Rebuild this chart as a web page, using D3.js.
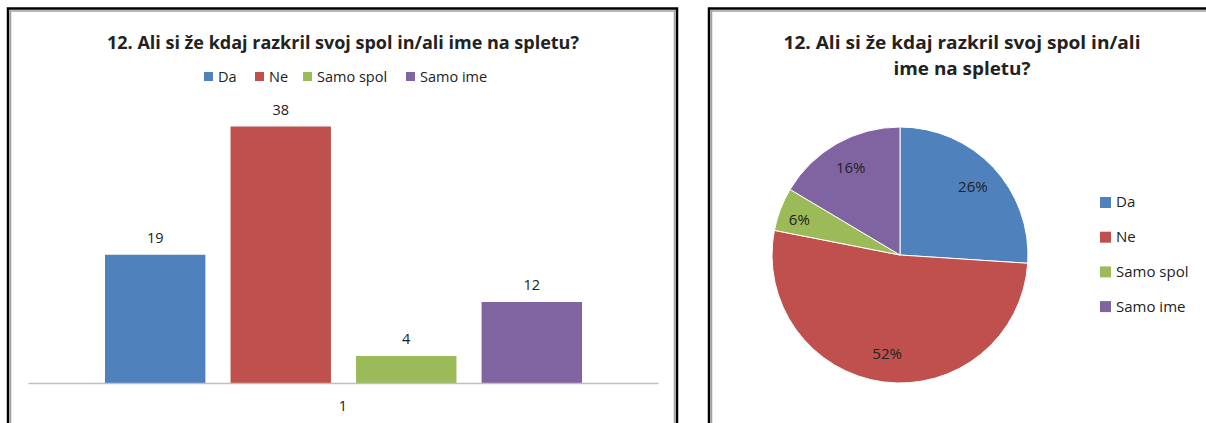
<!DOCTYPE html>
<html lang="sl">
<head>
<meta charset="UTF-8">
<title>12. Ali si že kdaj razkril svoj spol in/ali ime na spletu?</title>
<script src="https://cdn.jsdelivr.net/npm/d3@7"></script>
<style>
  body { margin: 0; background: #fff; }
  text { font-family: "Open Sans", "Liberation Sans", sans-serif; fill: #222; }
</style>
</head>
<body>
<svg id="chart" width="1206" height="423"></svg>
<script>
// data
let categories = ["Da", "Ne", "Samo spol", "Samo ime"]
let values = [19, 38, 4, 12]
let percentLabels = ["26%", "52%", "6%", "16%"]
let colors = ["#4f81bd", "#c0504d", "#9bbb59", "#8064a2"]
let groupLabel = ["1"]
let titleText = "12. Ali si že kdaj razkril svoj spol in/ali ime na spletu?"
let titleLines = ["12. Ali si že kdaj razkril svoj spol in/ali", "ime na spletu?"]

let svg = d3.select("#chart")

// panel frames (black outer line + grey inner line)
function frame(x, y, w, h) {
    svg.append("rect").attr("x", x + 2.5).attr("y", y + 2.5).attr("width", w - 5).attr("height", h - 5)
        .attr("fill", "none").attr("stroke", "#a0a0a0").attr("stroke-width", 1.5)
    svg.append("rect").attr("x", x).attr("y", y).attr("width", w).attr("height", h)
        .attr("fill", "none").attr("stroke", "#000").attr("stroke-width", 2.5)
}
frame(8, 8.5, 669, 440)
frame(709, 8.5, 520, 440)

// ---------- bar chart ----------
let left = 28, right = 658, baseY = 383

let x0 = d3.scaleBand().domain(groupLabel).range([left, right])
let x1 = d3.scaleBand().domain(categories).range([105, 582]).paddingInner(0.2)
let y = d3.scaleLinear().domain([0, 40]).range([baseY, 113])

svg.append("text")
    .attr("x", 343).attr("y", 49)
    .attr("text-anchor", "middle")
    .attr("font-size", 18).attr("font-weight", "bold")
    .attr("textLength", 472).attr("lengthAdjust", "spacingAndGlyphs")
    .text(titleText)

// top legend
let legX = [204, 255, 303, 406]
let leg = svg.append("g")
categories.forEach(function (c, i) {
    leg.append("rect").attr("x", legX[i]).attr("y", 72).attr("width", 9).attr("height", 9).attr("fill", colors[i])
    leg.append("text").attr("x", legX[i] + 14).attr("y", 82).attr("font-size", 14.5).text(c)
})

svg.selectAll("rect.bar")
    .data(values)
    .enter()
    .append("rect")
    .attr("class", "bar")
    .attr("x", (d, i) => x1(categories[i]))
    .attr("width", x1.bandwidth())
    .attr("y", d => y(d))
    .attr("height", d => baseY - y(d))
    .attr("fill", (d, i) => colors[i])

svg.selectAll("text.val")
    .data(values)
    .enter()
    .append("text")
    .attr("class", "val")
    .attr("x", (d, i) => x1(categories[i]) + x1.bandwidth() / 2)
    .attr("y", d => y(d) - 12)
    .attr("text-anchor", "middle")
    .attr("font-size", 14.5)
    .text(d => d)

// x axis
let xAxis = svg.append("g")
    .attr("transform", "translate(0," + baseY + ")")
    .call(d3.axisBottom(x0).tickSize(0).tickPadding(18))
xAxis.select(".domain").attr("stroke", "#bfbfbf").attr("stroke-width", 1.5)
xAxis.selectAll("text").attr("font-size", 14.5).attr("fill", "#222")
    .style("font-family", "'Open Sans', 'Liberation Sans', sans-serif")

// ---------- pie chart ----------
let cx = 900, cy = 255, r = 128

svg.append("g").selectAll("text")
    .data(titleLines)
    .enter()
    .append("text")
    .attr("x", 962)
    .attr("y", (d, i) => 49 + i * 26)
    .attr("text-anchor", "middle")
    .attr("font-size", 18).attr("font-weight", "bold")
    .attr("textLength", (d, i) => i === 0 ? 357 : 137)
    .attr("lengthAdjust", "spacingAndGlyphs")
    .text(d => d)

let pie = d3.pie().sort(null).value(d => d)
let arcs = pie(values)
let arc = d3.arc().innerRadius(0).outerRadius(r)
let labelArc = d3.arc().innerRadius(r * 0.78).outerRadius(r * 0.78)

let pg = svg.append("g").attr("transform", "translate(" + cx + "," + cy + ")")
pg.selectAll("path")
    .data(arcs)
    .enter()
    .append("path")
    .attr("d", arc)
    .attr("fill", (d, i) => colors[i])
    .attr("stroke", "#fff")
    .attr("stroke-width", 1)

pg.selectAll("text")
    .data(arcs)
    .enter()
    .append("text")
    .attr("transform", function (d, i) {
        let c = labelArc.centroid(d)
        if (i === 2) c = [c[0] * 1.08, c[1] * 1.0]
        return "translate(" + c[0] + "," + c[1] + ")"
    })
    .attr("text-anchor", "middle")
    .attr("dy", "0.35em")
    .attr("font-size", 15)
    .text((d, i) => percentLabels[i])

// right legend
let rl = svg.append("g")
categories.forEach(function (c, i) {
    let yy = 202 + i * 34.7
    rl.append("rect").attr("x", 1100).attr("y", yy - 5).attr("width", 11).attr("height", 11).attr("fill", colors[i])
    rl.append("text").attr("x", 1116).attr("y", yy).attr("dy", "0.36em").attr("font-size", 15).text(c)
})
</script>
</body>
</html>
